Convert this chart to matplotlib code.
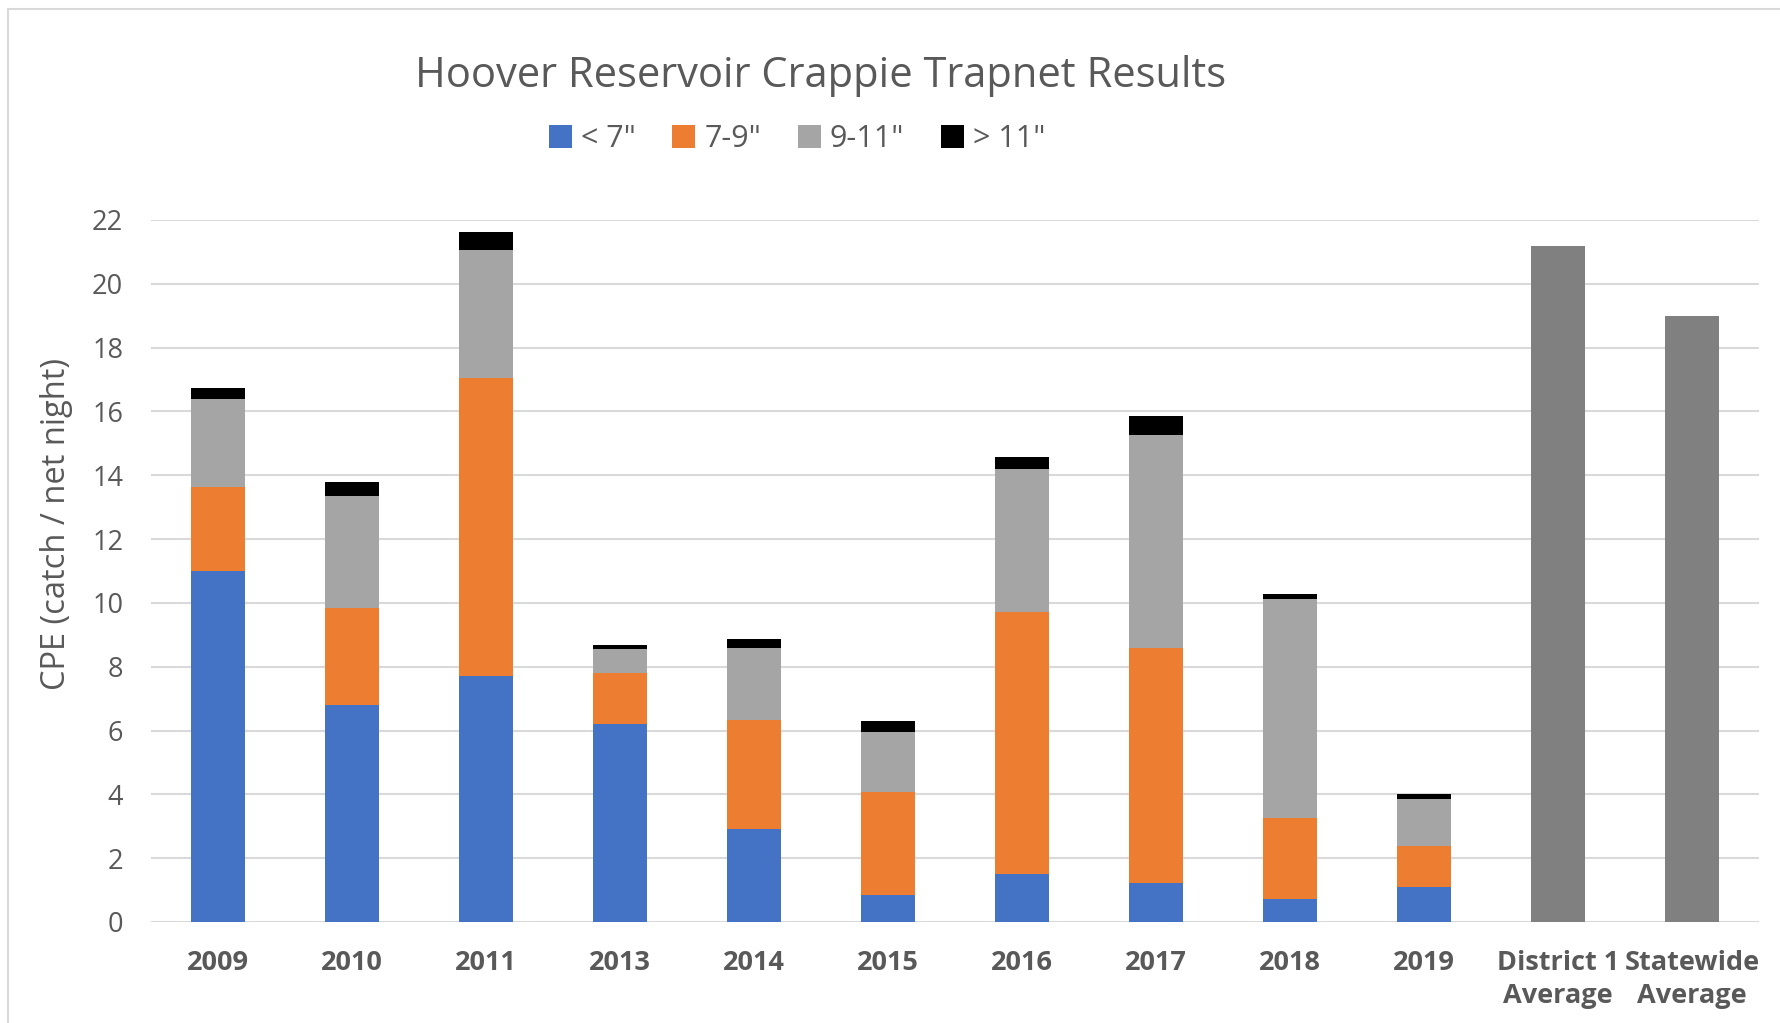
'''
hoover_crappie
-----------------------------------------------------------
stacked trapnet catch per effort by size class, with the
district and statewide averages on the right.
'''
# load packages -------------------------------------------
import numpy as np
import matplotlib.pyplot as plt
from matplotlib.patches import Rectangle

# set data ------------------------------------------------
years = ['2009', '2010', '2011', '2013', '2014',
         '2015', '2016', '2017', '2018', '2019']
avg_labels = ['District 1\nAverage', 'Statewide\nAverage']

# catch per net night by size class:
under_7 = [11.0, 6.8, 7.7, 6.2, 2.93, 0.84, 1.5, 1.23, 0.72, 1.09]
from_7_9 = [2.62, 3.05, 9.35, 1.6, 3.4, 3.23, 8.2, 7.35, 2.54, 1.3]
from_9_11 = [2.78, 3.5, 4.0, 0.77, 2.26, 1.9, 4.5, 6.68, 6.87, 1.47]
over_11 = [0.33, 0.45, 0.57, 0.12, 0.27, 0.32, 0.36, 0.6, 0.15, 0.16]

# averages:
averages = [21.2, 19.0]

# style ---------------------------------------------------
plt.rcParams['font.family'] = ['Open Sans', 'DejaVu Sans']
txt_col = '#595959'
colors = ['#4472C4', '#ED7D31', '#A5A5A5', '#000000']
names = ['< 7"', '7-9"', '9-11"', '> 11"']

# plot data -----------------------------------------------
fig = plt.figure(figsize=(17.8, 10.23), dpi=100)
ax = fig.add_axes([151 / 1780, 101 / 1023, 1608 / 1780, 702 / 1023])

x_years = np.arange(len(years))
x_avg = np.arange(len(years), len(years) + len(averages))
width = 0.4

bottom = np.zeros(len(years))
for vals, col, name in zip([under_7, from_7_9, from_9_11, over_11],
                           colors, names):
    ax.bar(x_years, vals, width, bottom=bottom, color=col, label=name,
           zorder=3)
    bottom = bottom + np.array(vals)

ax.bar(x_avg, averages, width, color='#808080', zorder=3)

# axes ----------------------------------------------------
ax.set_xlim(-0.5, len(years) + len(averages) - 0.5)
ax.set_ylim(0, 22)
ax.set_yticks(np.arange(0, 23, 2))
ax.set_xticks(np.concatenate([x_years, x_avg]))
ax.set_xticklabels(years + avg_labels, fontweight='bold', fontsize=19.5,
                   color=txt_col, linespacing=1.35)
ax.tick_params(axis='y', labelsize=19.5, labelcolor=txt_col, length=0,
               pad=20)
ax.tick_params(axis='x', length=0, pad=20)
ax.grid(axis='y', color='#D9D9D9', linewidth=1.5, zorder=0)
for s in ax.spines.values():
    s.set_visible(False)

ax.set_ylabel('CPE (catch / net night)', fontsize=23.5, color=txt_col,
              va='center')
ax.yaxis.set_label_coords(-0.0585, 0.567)

# title and legend:
fig.text(821 / 1780, 1 - 76 / 1023, 'Hoover Reservoir Crappie Trapnet Results',
         ha='center', va='center', fontsize=30, color=txt_col)
ax.legend(loc='center', bbox_to_anchor=(797 / 1780, 1 - 139 / 1023),
          bbox_transform=fig.transFigure, ncol=4, frameon=False,
          fontsize=22, labelcolor=txt_col, handlelength=0.75,
          handleheight=0.75, handletextpad=0.3, columnspacing=1.2)

# chart border:
fig.patches.append(Rectangle((8 / 1780, -0.1), 1.2, 1.1 - 9 / 1023,
                             transform=fig.transFigure, fill=False,
                             edgecolor='#D9D9D9', linewidth=1.5))

fig.savefig('out.png', dpi=100)

# finish routine ------------------------------------------
